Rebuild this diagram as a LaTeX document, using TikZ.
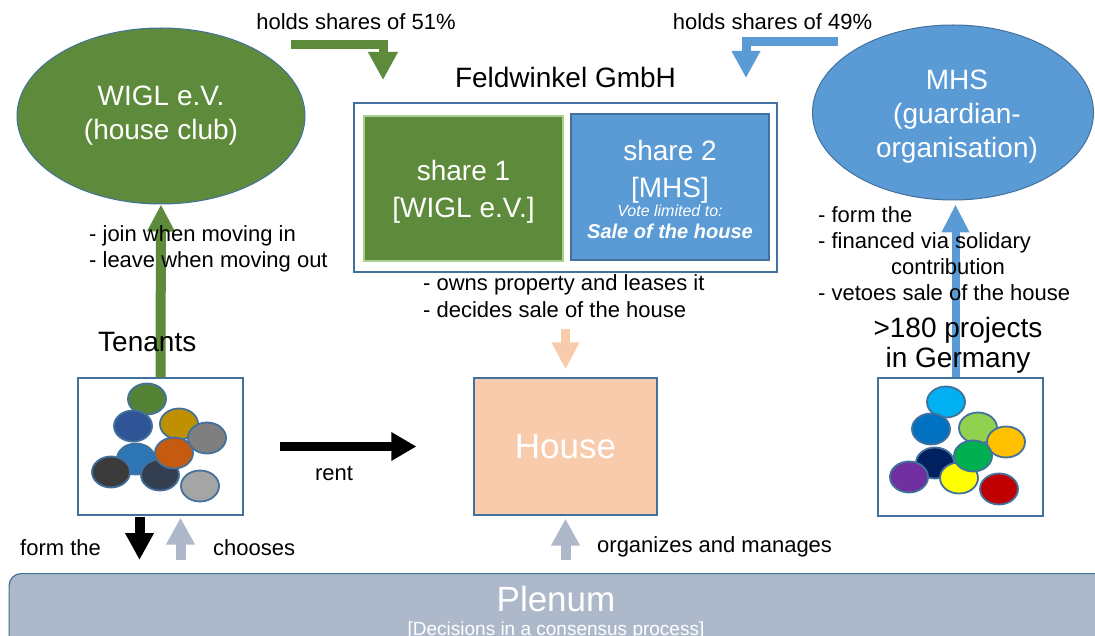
\documentclass[tikz,border=0pt]{standalone}
\usepackage{fontspec}
\setmainfont{Liberation Sans}
\usetikzlibrary{arrows.meta,shapes.geometric,calc}
\definecolor{wgreen}{HTML}{5E8B3B}
\definecolor{mblue}{HTML}{5B9BD5}
\definecolor{outl}{HTML}{41719C}
\definecolor{peach}{HTML}{F8CBAD}
\definecolor{plen}{HTML}{ADB9CA}
\definecolor{lgreen}{HTML}{A9D18E}
\definecolor{arrgrey}{HTML}{ADB9CA}
\begin{document}
\begin{tikzpicture}[x=1pt,y=-1pt,
  big/.style={font=\fontsize{28}{34}\selectfont},
  mid/.style={font=\fontsize{22}{26.3}\selectfont},
  org/.style={ellipse, draw=outl, line width=1pt, inner sep=0pt, text=white, align=center, big},
  box/.style={rectangle, draw=outl, line width=1.2pt, inner sep=0pt},
  dot/.style={ellipse, draw=outl, line width=1.8pt, minimum width=38, minimum height=31, inner sep=0pt},
  fatarrow/.style={line width=9pt, -{Triangle[length=27pt,width=27pt]}},
  txt/.style={inner sep=0pt, mid}
]
\clip (0,0) rectangle (1095,636);
\fill[white] (0,0) rectangle (1095,636);

% organisations
\node[org, fill=wgreen, minimum width=288, minimum height=176] (wigl) at (161,116) {WIGL e.V.\\(house club)};
\node[org, fill=mblue, minimum width=281, minimum height=175] (mhs) at (953,112.5) {};
\node[inner sep=0pt, text=white, align=center, big, anchor=base] (mhst) at (957,158) {MHS\\(guardian-\\organisation)};

% GmbH
\node[big, anchor=base, inner sep=0pt] (fw) at (565.5,88) {Feldwinkel GmbH};
\node[box, fill=white, minimum width=423, minimum height=169] (gmbh) at (565.5,187.5) {};
\node[rectangle, draw=lgreen, line width=1.5pt, fill=wgreen, minimum width=199, minimum height=145] (s1) at (463.5,188.5) {};
\node[inner sep=0pt, text=white, align=center, font=\fontsize{28}{37}\selectfont, anchor=base] (s1t) at (463.5,218)
      {share 1\\{[WIGL e.V.]}};
\node[box, fill=mblue, minimum width=198, minimum height=146] (s2) at (670,187) {};
\node[inner sep=0pt, text=white, align=center, font=\fontsize{28}{37}\selectfont, anchor=base] (s2t) at (670,239)
      {share 2\\{[MHS]}\\[-18pt]{\fontsize{16}{19}\selectfont\itshape Vote limited to:}\\[-15pt]{\fontsize{20}{22}\selectfont\bfseries\itshape Sale of the house}};

% house
\node[box, fill=peach, minimum width=183, minimum height=137, text=white, font=\fontsize{35}{40}\selectfont] (house) at (565.5,446.5) {House};

% tenants
\node[box, fill=white, minimum width=165, minimum height=137] (ten) at (160.5,446.5) {};
\node[dot, fill={rgb,255:red,84;green,130;blue,53}] (t1) at (147,399) {};
\node[dot, fill={rgb,255:red,47;green,85;blue,151}] (t2) at (133,426) {};
\node[dot, fill={rgb,255:red,191;green,144;blue,0}] (t3) at (179,424) {};
\node[dot, fill={rgb,255:red,127;green,127;blue,127}] (t4) at (207,438) {};
\node[dot, fill={rgb,255:red,46;green,117;blue,182}] (t5) at (136,459) {};
\node[dot, fill={rgb,255:red,59;green,59;blue,59}] (t6) at (111,472) {};
\node[dot, fill={rgb,255:red,51;green,63;blue,80}] (t7) at (160,475) {};
\node[dot, fill={rgb,255:red,197;green,90;blue,17}] (t8) at (174,453) {};
\node[dot, fill={rgb,255:red,165;green,165;blue,165}] (t9) at (200,486) {};

% projects
\node[box, fill=white, minimum width=165, minimum height=138] (proj) at (960.5,447) {};
\node[dot, fill={rgb,255:red,0;green,176;blue,240}] (p1) at (946,402) {};
\node[dot, fill={rgb,255:red,0;green,112;blue,192}] (p2) at (931,429) {};
\node[dot, fill={rgb,255:red,146;green,208;blue,80}] (p3) at (978,428) {};
\node[dot, fill={rgb,255:red,255;green,192;blue,0}] (p4) at (1006,442) {};
\node[dot, fill={rgb,255:red,0;green,32;blue,96}] (p5) at (935,463) {};
\node[dot, fill={rgb,255:red,112;green,48;blue,160}] (p6) at (909,477) {};
\node[dot, fill={rgb,255:red,255;green,255;blue,0}] (p7) at (959,478) {};
\node[dot, fill={rgb,255:red,0;green,176;blue,80}] (p8) at (973,456) {};
\node[dot, fill={rgb,255:red,192;green,0;blue,0}] (p9) at (999,489) {};

% plenum
\node[rectangle, rounded corners=12pt, draw=outl, line width=1.2pt, fill=plen, minimum width=1110, minimum height=90, anchor=north west] (plenum) at (8.5,573) {};

% description text
\node[txt, align=left, anchor=base west] (desc) at (423,317) {- owns property and leases it\\- decides sale of the house};

% helper coordinates
\coordinate (ta) at ($(ten.south)+(-21,0)$);
\coordinate (tb) at ($(ten.south)+(20,0)$);
\coordinate (pa) at ($(proj.north)+(-5,0)$);
\coordinate (g1) at (291,44.5);
\coordinate (g2) at (383,80);
\coordinate (b1) at (838,42);
\coordinate (b2) at (746,78);

% arrows
\draw[fatarrow, wgreen, -{Triangle[length=28pt,width=28pt]}] (g1) -| (g2);
\draw[fatarrow, mblue, -{Triangle[length=27pt,width=27pt]}] (b1) -| (b2);
\draw[fatarrow, line width=10pt, wgreen, -{Triangle[length=27pt,width=26pt]}] (ten.north) -- (wigl.south);
\draw[fatarrow, line width=8pt, mblue, -{Triangle[length=28pt,width=26pt]}, shorten >=4pt] (pa) -- (pa |- mhs.south);
\draw[fatarrow, peach, -{Triangle[length=27pt,width=26pt]}, shorten <=12pt, shorten >=8pt] (desc.south -| house.north) -- (house.north);
\draw[fatarrow, black, -{Triangle[length=25pt,width=27pt]}, shorten <=36pt, shorten >=57pt] (ten.east) -- (house.west);
\draw[fatarrow, line width=10pt, black, shorten <=1pt, shorten >=13pt] (ta) -- (ta |- plenum.north);
\draw[fatarrow, line width=10pt, arrgrey, shorten <=13pt, shorten >=2pt] (tb |- plenum.north) -- (tb);
\draw[fatarrow, line width=10pt, arrgrey, shorten <=13pt, shorten >=3pt] (house.south |- plenum.north) -- (house.south);

% labels
\node[txt, anchor=base] (l51) at (356,30) {holds shares of 51\%};
\node[txt, anchor=base] (l49) at (772.5,30) {holds shares of 49\%};
\node[txt, align=left, anchor=base west] (join) at (89,268) {- join when moving in\\- leave when moving out};
\node[inner sep=0pt, anchor=base west, font=\fontsize{28}{32}\selectfont] (tenl) at (98,352) {Tenants};
\node[txt, align=left, anchor=base west] (mhsl) at (818,301) {- form the\\- financed via solidary\\\hspace*{73pt}contribution\\- vetoes sale of the house};
\node[inner sep=0pt, align=center, anchor=base, font=\fontsize{28}{30}\selectfont] (projl) at (958,367) {>180 projects\\in Germany};
\node[txt, anchor=base] (rent) at (334,480) {rent};
\node[txt, anchor=base west] (formthe) at (20,555) {form the};
\node[txt, anchor=base west] (chooses) at (213,555) {chooses};
\node[txt, anchor=base west] (organ) at (597,552) {organizes and manages};
\node[inner sep=0pt, anchor=base, text=white, font=\fontsize{35}{40}\selectfont] (plt) at (556,611) {Plenum};
\node[inner sep=0pt, anchor=base, text=white, font=\fontsize{19}{22}\selectfont] (pld) at (556,635) {[Decisions in a consensus process]};
\end{tikzpicture}
\end{document}
